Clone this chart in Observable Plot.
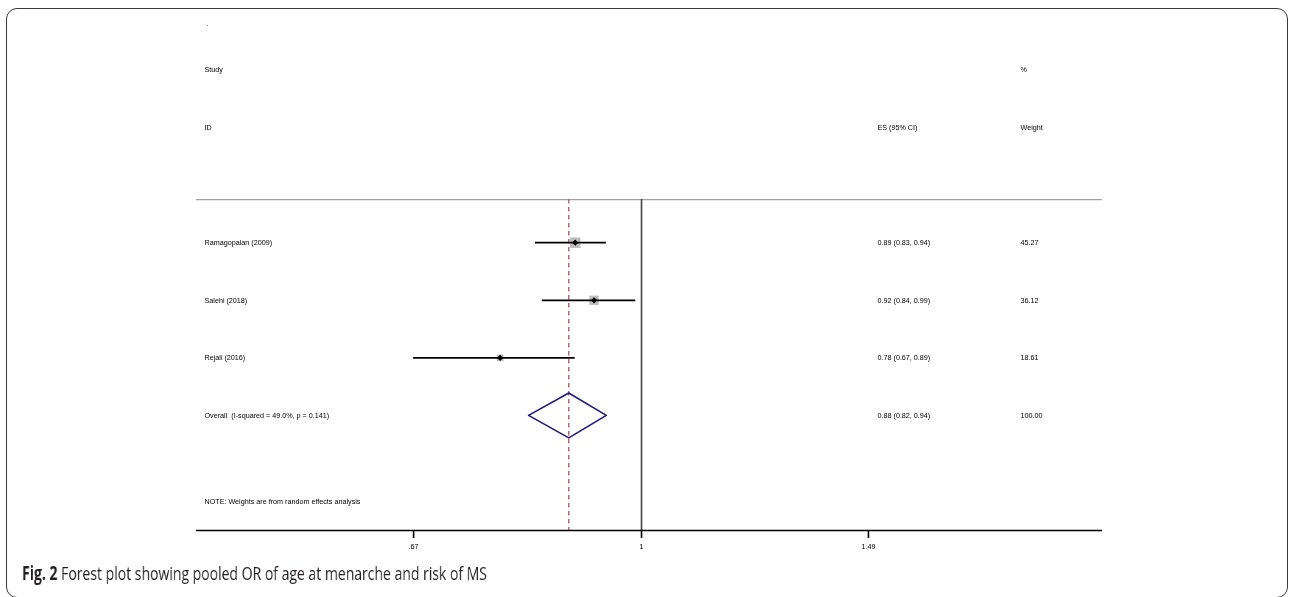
<!DOCTYPE html>
<html>
<head>
<meta charset="utf-8">
<script src="https://cdn.jsdelivr.net/npm/d3@7"></script>
<script src="https://cdn.jsdelivr.net/npm/@observablehq/plot@0.6"></script>
<style>
  html, body { margin: 0; padding: 0; background: #fff; width: 1290px; height: 597px; overflow: hidden; }
  #frame { position: absolute; left: 6px; top: 8px; width: 1282px; height: 590px; box-sizing: border-box;
           border: 1.5px solid #3a3a3a; border-radius: 11px; }
  #chart { position: absolute; left: 0; top: 0; will-change: transform; }
  #caption { position: absolute; left: 22px; top: 560px; font-family: "Open Sans", sans-serif; font-size: 19px;
             color: #231f20; white-space: nowrap; transform-origin: 0 0; will-change: transform; }
  #caption b { font-weight: 700; }
</style>
</head>
<body>
<div id="frame"></div>
<div id="chart"></div>
<div id="caption"><b>Fig. 2</b> Forest plot showing pooled OR of age at menarche and risk of MS</div>
<script>
// ---- data ----
const studies = ["Ramagopalan (2009)", "Salehi (2018)", "Rejali (2016)"];
const esValues = [0.89, 0.92, 0.78];
const ciLow = [0.83, 0.84, 0.67];
const ciHigh = [0.94, 0.99, 0.89];
const weights = [45.27, 36.12, 18.61];
const esLabels = ["0.89 (0.83, 0.94)", "0.92 (0.84, 0.99)", "0.78 (0.67, 0.89)"];
const weightLabels = ["45.27", "36.12", "18.61"];

const overallLabel = "Overall\u00a0\u00a0(I-squared = 49.0%, p = 0.141)";
const overallES = 0.88, overallLow = 0.82, overallHigh = 0.94;
const overallESLabel = "0.88 (0.82, 0.94)";
const overallWeightLabel = "100.00";

const noteText = "NOTE: Weights are from random effects analysis";
const xTicks = [0.67, 1, 1.49];
const xTickLabels = [".67", "1", "1.49"];

// ---- build table ----
const rows = studies.map((s, i) => ({
  label: s, es: esValues[i], lo: ciLow[i], hi: ciHigh[i], w: weights[i],
  esLabel: esLabels[i], wLabel: weightLabels[i], row: i + 1
}));
const overallRow = 4;
const diamondHalf = 0.39;
const diamond = [
  {x: overallLow, y: overallRow},
  {x: overallES, y: overallRow - diamondHalf},
  {x: overallHigh, y: overallRow},
  {x: overallES, y: overallRow + diamondHalf},
  {x: overallLow, y: overallRow}
];
const leftTexts = [
  ...rows.map(d => ({t: d.label, row: d.row})),
  {t: overallLabel, row: overallRow},
  {t: noteText, row: 5.5},
  {t: "Study", row: -2},
  {t: "ID", row: -1}
];
const esTexts = [...rows.map(d => ({t: d.esLabel, row: d.row})), {t: overallESLabel, row: overallRow}, {t: "ES (95% CI)", row: -1}];
const wTexts = [...rows.map(d => ({t: d.wLabel, row: d.row})), {t: overallWeightLabel, row: overallRow}, {t: "%", row: -2}, {t: "Weight", row: -1}];

const font = "'Liberation Sans', Arial, Helvetica, sans-serif";
const fs = 7.2;

const plot = Plot.plot({
  width: 1290,
  height: 560,
  marginLeft: 196,
  marginRight: 188,
  marginTop: 12,
  marginBottom: 30,
  style: {fontFamily: font, fontSize: fs + "px", color: "#000", background: "transparent"},
  x: {type: "log", domain: [0.4575, 2.248]},
  y: {domain: [-3, 6], reverse: true, axis: null},
  r: {type: "sqrt", domain: [0, 45.27], range: [0, 5.9]},
  marks: [
    Plot.ruleY([0.25], {stroke: "#a0a0a0", strokeWidth: 1.2}),
    Plot.ruleX([1], {y1: 0.25, y2: 6, stroke: "#444", strokeWidth: 1.6}),
    Plot.ruleX([overallES], {y1: 0.25, y2: 6, stroke: "#b56a76", strokeWidth: 1.5, strokeDasharray: "4.5,3.5"}),
    Plot.dot(rows, {x: "es", y: "row", r: "w", symbol: "square", fill: "#bdbdbd"}),
    Plot.ruleY(rows, {y: "row", x1: "lo", x2: "hi", stroke: "#000", strokeWidth: 1.7}),
    Plot.dot(rows, {x: "es", y: "row", r: 2.8, symbol: "diamond2", fill: "#000"}),
    Plot.line(diamond, {x: "x", y: "y", stroke: "#1b1b7a", strokeWidth: 1.6}),
    Plot.text(leftTexts, {y: "row", text: "t", frameAnchor: "left", dx: 8, textAnchor: "start", fill: "#000", fontSize: fs}),
    Plot.text(esTexts, {y: "row", text: "t", frameAnchor: "right", dx: -225, textAnchor: "start", fill: "#000", fontSize: fs}),
    Plot.text(wTexts, {y: "row", text: "t", frameAnchor: "right", dx: -82, textAnchor: "start", fill: "#000", fontSize: fs}),
    Plot.text(["."], {y: [-2.8], text: d => d, frameAnchor: "left", dx: 10, textAnchor: "start", fill: "#000", fontSize: fs}),
    Plot.ruleY([6], {stroke: "#000", strokeWidth: 1.6}),
    Plot.axisX(xTicks, {
      tickFormat: d => xTickLabels[xTicks.indexOf(d)],
      tickSize: 8, tickPadding: 5, stroke: "#000", strokeWidth: 1.6, fontSize: fs, fill: "#000"
    })
  ]
});
document.getElementById("chart").appendChild(plot);

// fit caption to reference width
const cap = document.getElementById("caption");
const w = cap.getBoundingClientRect().width;
cap.style.transform = `scaleX(${465 / w})`;
</script>
</body>
</html>
